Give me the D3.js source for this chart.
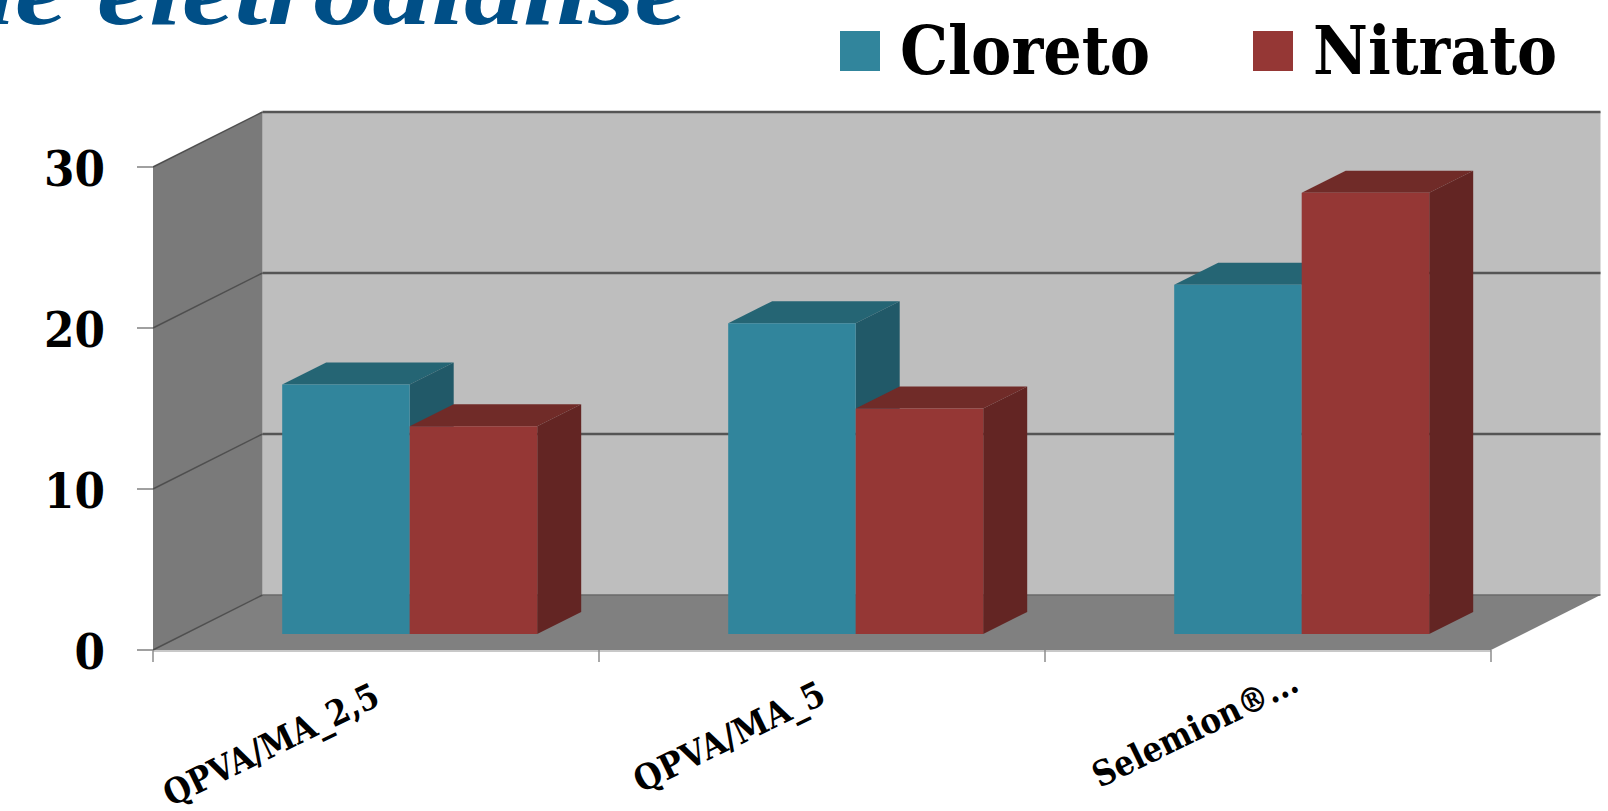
<!DOCTYPE html>
<html><head><meta charset="utf-8">
<script src="https://cdn.jsdelivr.net/npm/d3@7/dist/d3.min.js"></script>
<style>html,body{margin:0;padding:0;background:#fff;overflow:hidden}svg{display:block}text{font-family:"DejaVu Serif",serif;font-weight:700}</style>
</head><body><svg id="c" width="1608" height="811"></svg>
<script>
const categories=["QPVA/MA_2,5","QPVA/MA_5","Selemion®..."];
const cloreto=[15.5,19.3,21.7];
const nitrato=[12.9,14.0,27.4];
const yTicks=[0,10,20,30];
const seriesNames=["Cloreto","Nitrato"];
const faceColors=["#31859c","#953735"];
const topColors=["#256574","#702b28"];
const sideColors=["#215968","#632523"];

const svg=d3.select("#c");
const x=d3.scaleBand().domain(categories).range([153,1491]).paddingInner(0).paddingOuter(0);
const y=d3.scaleLinear().domain([0,30]).range([650,167]);
const depthX=109.5,depthY=55;
const poly=(pts,fill)=>svg.append("polygon").attr("points",pts.map(p=>p.join(",")).join(" ")).attr("fill",fill);
const line=(a,b,c,w)=>svg.append("line").attr("x1",a[0]).attr("y1",a[1]).attr("x2",b[0]).attr("y2",b[1]).attr("stroke",c).attr("stroke-width",w);
const x0=x.range()[0],x1=x.range()[1];
const y0=y(0),yT=y(30);

// title fragment, clipped by the top edge
svg.append("text").attr("x",-44).attr("y",24).attr("font-size",96).attr("font-style","italic")
  .style("font-family",'"Liberation Serif",serif')
  .attr("fill","#004f87").attr("textLength",731).attr("lengthAdjust","spacingAndGlyphs").text("de eletrodiálise");

// walls and floor
poly([[x0+depthX,yT-depthY],[x1+depthX,yT-depthY],[x1+depthX,y0-depthY],[x0+depthX,y0-depthY]],"#bebebe");
poly([[x0,yT],[x0+depthX,yT-depthY],[x0+depthX,y0-depthY],[x0,y0]],"#7a7a7a");
poly([[x0,y0],[x0+depthX,y0-depthY],[x1+depthX,y0-depthY],[x1,y0]],"#808080");
line([x0,y0+1],[x1,y0+1],"#c8c8c8",2);

// gridlines
yTicks.forEach(t=>{
  const v=y(t);
  if(t>0)line([x0+depthX,v-depthY],[x1+depthX,v-depthY],"#555555",2.5);
  else line([x0+depthX,v-depthY],[x1+depthX,v-depthY],"#6a6a6a",1.5);
  line([x0,v],[x0+depthX,v-depthY],"#4f4f4f",1.5);
  line([x0-16,v],[x0,v],"#a0a0a0",2);
  svg.append("text").attr("x",105).attr("y",v+18.5).attr("text-anchor","end").attr("font-size",49)
    .attr("fill","#000").attr("textLength",String(t).length*30.5).attr("lengthAdjust","spacingAndGlyphs").text(t);
});

// category ticks
d3.range(categories.length+1).map(i=>x0+i*x.step()).forEach(t=>line([t,y0],[t,y0+12],"#8c8c8c",1.5));

// bars
const barW=127.5,offX=33.7,offY=16,dx=44,dy=22;
const labelEnd=[[382,704],[828,702],[1301,690]];
const labelLen=[235,208,224];
categories.forEach((c,i)=>{
  [cloreto[i],nitrato[i]].forEach((val,s)=>{
    const l=x(c)+(x.step()-2*barW)/2+offX+s*barW, r=l+barW, b=y(0)-offY, t=b-(y(0)-y(val));
    poly([[l,t],[l+dx,t-dy],[r+dx,t-dy],[r,t]],topColors[s]);
    poly([[r,t],[r+dx,t-dy],[r+dx,b-dy],[r,b]],sideColors[s]);
    poly([[l,t],[r,t],[r,b],[l,b]],faceColors[s]);
  });
  svg.append("text").attr("transform",`translate(${labelEnd[i][0]},${labelEnd[i][1]}) rotate(-26)`)
    .attr("text-anchor","end").attr("font-size",35).attr("fill","#000")
    .attr("textLength",labelLen[i]).attr("lengthAdjust","spacingAndGlyphs").text(c);
});

// legend
const legendX=[840,1253],legendTextX=[900,1313],legendTextW=[250,244];
seriesNames.forEach((n,i)=>{
  svg.append("rect").attr("x",legendX[i]).attr("y",31).attr("width",40).attr("height",40).attr("fill",faceColors[i]);
  svg.append("text").attr("x",legendTextX[i]).attr("y",74).attr("font-size",68).attr("fill","#000")
    .attr("textLength",legendTextW[i]).attr("lengthAdjust","spacingAndGlyphs").text(n);
});
</script></body></html>
